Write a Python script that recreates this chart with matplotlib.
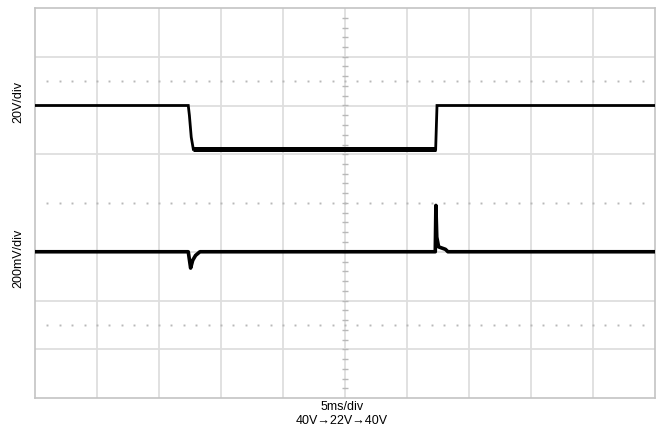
#!/usr/bin/env python3

import numpy as np
import matplotlib
matplotlib.use("Agg")
import matplotlib.pyplot as plt

# scope settings
t_div = 5.      # ms/div
ch1_div = 20.   # V/div
ch2_div = 200.  # mV/div
ch1_ground = 4. # div
ch2_ground = 3. # div

# CH1 : input step 40V -> 22V -> 40V
t_ch1 = [0., 12.36, 12.45, 12.6, 12.77, 32.31, 32.42, 50.]
v_ch1 = [40., 40., 36., 27., 22., 22., 40., 40.]

# CH2 : output (AC coupled) [mV]
t_ch2 = [0., 12.36, 12.55, 12.72, 12.95, 13.3, 32.28, 32.33, 32.4, 32.55, 33.1, 33.3, 50.]
v_ch2 = [0., 0., -67., -35., -15., 0., 0., 190., 60., 20., 10., 0., 0.]

labels_y = ['20V/div', '200mV/div']
label_x = ['5ms/div', '40V\u219222V\u219240V']

plt.rcParams['font.family'] = ['Liberation Sans', 'DejaVu Sans']

fig = plt.figure(figsize=(6.63, 4.29), dpi=100)
ax = fig.add_axes([35/663., 31/429., 620/663., 390/429.])
ax.set_xlim(0, 10*t_div)
ax.set_ylim(0, 8)

gcol = '#dedede'
for i in range(1, 10):
    ax.axvline(i*t_div, color=gcol, lw=1.3, zorder=1)
for j in [1, 2, 3, 5, 6, 7]:
    ax.axhline(j, color=gcol, lw=1.3, zorder=1)

# minor ticks on the centre line and dotted rows
yy = np.arange(0.2, 8, 0.2)
ax.plot(np.full(len(yy), 5*t_div), yy, ls='none', marker='_', ms=4, mew=1.0, color='#b8b8b8', zorder=2)
xx = np.arange(1., 50., 1.)
for row in [1.5, 4., 6.5]:
    ax.plot(xx, np.full(len(xx), row), ls='none', marker='s', ms=1.4, mew=0, color='#b8b8b8', zorder=2)

y1 = ch1_ground + np.array(v_ch1)/ch1_div
y2 = ch2_ground + np.array(v_ch2)/ch2_div
ax.plot(t_ch1, y1, color='black', lw=2.0, solid_joinstyle='miter', zorder=3)
ax.plot(t_ch1[4:6], y1[4:6], color='black', lw=3.6, solid_capstyle='butt', zorder=3)
ax.plot(t_ch2, y2, color='black', lw=2.6, zorder=3)

for s in ax.spines.values():
    s.set_color('#c4c4c4')
    s.set_linewidth(1.2)
ax.set_xticks([])
ax.set_yticks([])

fig.text(18/663., 1-102/429., labels_y[0], rotation=90, ha='center', va='center', fontsize=9)
fig.text(18/663., 1-258/429., labels_y[1], rotation=90, ha='center', va='center', fontsize=9)
fig.text(342/663., 1-407/429., label_x[0], ha='center', va='center', fontsize=9)
fig.text(342/663., 1-421/429., label_x[1], ha='center', va='center', fontsize=9)

plt.savefig('out.png', dpi=100)
